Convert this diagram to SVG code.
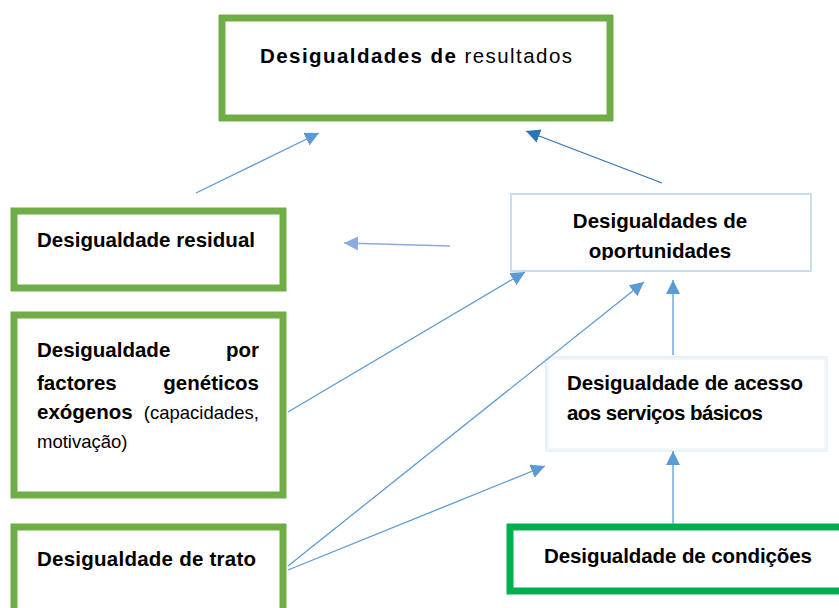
<svg xmlns="http://www.w3.org/2000/svg" width="839" height="608" viewBox="0 0 839 608">
<style>
text{font-family:"Liberation Sans",Arial,sans-serif;fill:#000;font-size:20.5px}
.b{font-weight:bold}
.n{font-size:18.5px}
.green{fill:#fff;stroke:#70AD47;stroke-width:7}
.green2{fill:#fff;stroke:#00B050;stroke-width:7}
.light{fill:#fff;stroke:#C9DDF1;stroke-width:2}
.c{fill:none;stroke:#5B9BD5;stroke-width:1.3}
</style>
<defs>
<marker id="ah" markerUnits="userSpaceOnUse" markerWidth="16" markerHeight="16" refX="14" refY="7" orient="auto">
<path d="M0,0 L14,7 L0,14 Z" fill="#5B9BD5"/>
</marker>
<marker id="ahd" markerUnits="userSpaceOnUse" markerWidth="16" markerHeight="16" refX="14" refY="7" orient="auto">
<path d="M0,0 L14,7 L0,14 Z" fill="#2E75B6"/>
</marker>
<marker id="ahl" markerUnits="userSpaceOnUse" markerWidth="16" markerHeight="16" refX="14" refY="7" orient="auto">
<path d="M0,0 L14,7 L0,14 Z" fill="#8FAADC"/>
</marker>
<clipPath id="opclip"><rect x="510" y="193" width="302" height="67"/></clipPath>
</defs>

<g id="resultados">
<rect class="green" x="222" y="18" width="388" height="100" stroke-width="8"/>
<text x="260" y="63" font-size="23" textLength="312"><tspan class="b">Desigualdades de</tspan> resultados</text>
</g>

<g id="residual">
<rect class="green" x="14" y="211" width="269" height="77"/>
<text class="b" x="37" y="247" textLength="218">Desigualdade residual</text>
</g>

<g id="geneticos">
<rect class="green" x="14" y="315" width="269" height="180"/>
<text class="b" x="37" y="357">Desigualdade</text>
<text class="b" x="259" y="357" text-anchor="end">por</text>
<text class="b" x="37" y="390">factores</text>
<text class="b" x="259" y="390" text-anchor="end">genéticos</text>
<text class="b" x="37" y="419">exógenos</text>
<text class="n" x="259" y="419" text-anchor="end">(capacidades,</text>
<text class="n" x="37" y="448">motivação)</text>
</g>

<g id="trato">
<rect class="green" x="14" y="527" width="269" height="95"/>
<text class="b" x="37" y="566" textLength="219">Desigualdade de trato</text>
</g>

<g id="oportunidades">
<rect class="light" x="511" y="194" width="300" height="77"/>
<g clip-path="url(#opclip)">
<text class="b" x="660" y="228" text-anchor="middle">Desigualdades de</text>
<text class="b" x="660" y="258" text-anchor="middle">oportunidades</text>
</g>
</g>

<g id="acesso">
<rect x="546" y="357" width="281" height="94" fill="#fff" stroke="#D6E4F3" stroke-width="1"/>
<rect x="548" y="359" width="277" height="90" fill="none" stroke="#E4EEF8" stroke-width="1"/>
<text class="b" x="567" y="390" textLength="236">Desigualdade de acesso</text>
<text class="b" x="567" y="420" textLength="196">aos serviços básicos</text>
</g>

<g id="condicoes">
<rect class="green2" x="510" y="527" width="340" height="64"/>
<text class="b" x="544" y="563" textLength="268">Desigualdade de condições</text>
</g>

<g id="connectors">
<line class="c" x1="196" y1="193" x2="319" y2="133" marker-end="url(#ah)"/>
<line class="c" x1="662" y1="183" x2="526" y2="131" style="stroke:#2E75B6" marker-end="url(#ahd)"/>
<line class="c" x1="450" y1="246" x2="344" y2="243" style="stroke:#8FAADC" marker-end="url(#ahl)"/>
<line class="c" x1="288" y1="412" x2="525" y2="272" marker-end="url(#ah)"/>
<line class="c" x1="288" y1="566" x2="644" y2="282" marker-end="url(#ah)"/>
<line class="c" x1="288" y1="570" x2="545" y2="466" marker-end="url(#ah)"/>
<line class="c" x1="673" y1="355" x2="673" y2="280" marker-end="url(#ah)"/>
<line class="c" x1="673" y1="524" x2="673" y2="451" marker-end="url(#ah)"/>
</g>
</svg>
